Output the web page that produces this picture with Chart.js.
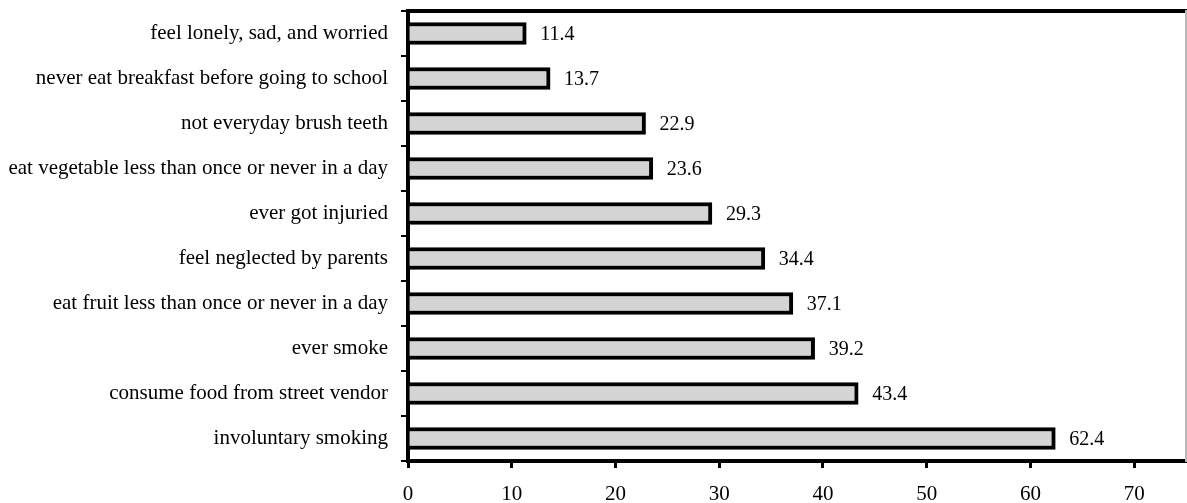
<!DOCTYPE html>
<html>
<head>
<meta charset="utf-8">
<script src="https://cdn.jsdelivr.net/npm/chart.js@4/dist/chart.umd.min.js"></script>
<style>
  html, body { margin: 0; padding: 0; background: #fff; }
  #wrap { width: 1187px; height: 503px; }
</style>
</head>
<body>
<div id="wrap"><canvas id="c" width="1187" height="503"></canvas></div>
<script>
const categories = [
  "feel lonely, sad, and worried",
  "never eat breakfast before going to school",
  "not everyday brush teeth",
  "eat vegetable less than once or never in a day",
  "ever got injuried",
  "feel neglected by parents",
  "eat fruit less than once or never in a day",
  "ever smoke",
  "consume food from street vendor",
  "involuntary smoking"
];
const values = [11.4, 13.7, 22.9, 23.6, 29.3, 34.4, 37.1, 39.2, 43.4, 62.4];
const xTicks = [0, 10, 20, 30, 40, 50, 60, 70];
const xMax = 75;

const serif = '"Liberation Serif", "Times New Roman", serif';

const valueLabels = {
  id: 'valueLabels',
  afterDatasetsDraw(chart) {
    const ctx = chart.ctx;
    const meta = chart.getDatasetMeta(0);
    ctx.save();
    ctx.font = '20px ' + serif;
    ctx.fillStyle = '#000';
    ctx.textAlign = 'left';
    ctx.textBaseline = 'middle';
    meta.data.forEach((el, i) => {
      ctx.fillText(values[i].toFixed(1), el.x + 14, el.y + 1);
    });
    ctx.restore();
  }
};

new Chart(document.getElementById('c'), {
  type: 'bar',
  data: {
    labels: categories,
    datasets: [{
      data: values,
      backgroundColor: '#d4d4d4',
      borderColor: '#000',
      borderWidth: 4,
      barThickness: 22,
      xAxisID: 'x',
      yAxisID: 'y'
    }]
  },
  options: {
    indexAxis: 'y',
    responsive: false,
    devicePixelRatio: 1,
    animation: false,
    layout: { padding: 0 },
    plugins: { legend: { display: false }, tooltip: { enabled: false } },
    scales: {
      x: {
        type: 'linear',
        position: 'bottom',
        min: 0,
        max: xMax,
        afterBuildTicks: (s) => { s.ticks = xTicks.map(v => ({ value: v })); },
        afterFit: (s) => { s.height = 42; s.paddingLeft = 0; s.paddingRight = 0; },
        ticks: { font: { family: serif, size: 21, lineHeight: 0.5 }, color: '#000', padding: 21 },
        grid: { drawOnChartArea: false, tickLength: 7, color: '#000', lineWidth: 3 },
        border: { color: '#000', width: 4 }
      },
      x2: {
        type: 'linear',
        position: 'top',
        min: 0,
        max: xMax,
        ticks: { display: false },
        grid: { drawOnChartArea: false, drawTicks: false },
        afterFit: (s) => { s.height = 11; s.paddingLeft = 0; s.paddingRight = 0; },
        border: { color: '#000', width: 4 }
      },
      y: {
        type: 'category',
        position: 'left',
        afterFit: (s) => { s.width = 408; s.paddingTop = 0; s.paddingBottom = 0; },
        ticks: { font: { family: serif, size: 21, lineHeight: 0.4 }, color: '#000', padding: 13 },
        grid: { drawOnChartArea: false, tickLength: 7, color: '#000', lineWidth: 2, offset: true },
        border: { color: '#000', width: 4 }
      },
      y2: {
        type: 'linear',
        position: 'right',
        ticks: { display: false },
        grid: { drawOnChartArea: false, drawTicks: false },
        afterFit: (s) => { s.width = 1; s.paddingTop = 0; s.paddingBottom = 0; },
        border: { color: '#b8b8b8', width: 2 }
      }
    }
  },
  plugins: [valueLabels]
});
</script>
</body>
</html>
